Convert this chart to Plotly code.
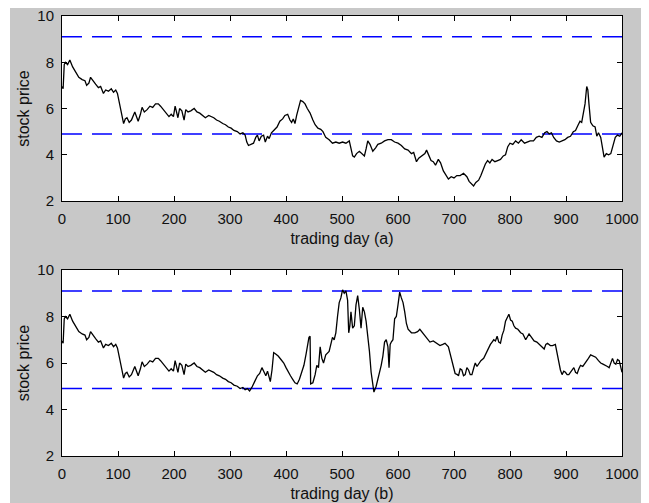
import plotly.graph_objects as go

# ---------------- data ----------------
# shared early path (both panels identical up to ~day 327)
common_days = [0, 2, 4, 6, 10, 14, 19, 24, 30, 36, 41, 44, 48, 51, 56, 60, 65, 69, 74, 78,
               83, 88, 92, 96, 99, 101, 104, 107, 110, 113, 116, 120, 124, 130, 133, 136, 140,
               143, 147, 152, 157, 162, 167, 172, 176, 181, 186, 191, 195, 199, 202, 205, 207,
               210, 214, 218, 221, 225, 230, 236, 241, 246, 251, 256, 262, 266, 271, 276, 281,
               287, 292, 297, 302, 307, 313, 318, 323, 327]
common_price = [6.95, 6.85, 7.9, 8.0, 7.9, 8.1, 7.8, 7.6, 7.35, 7.25, 7.2, 7.0, 7.1, 7.35, 7.15,
                7.05, 6.9, 6.95, 6.65, 6.8, 6.75, 6.85, 6.7, 6.8, 6.65, 6.4, 6.0, 5.7, 5.35, 5.55,
                5.6, 5.4, 5.5, 5.85, 5.6, 5.45, 5.75, 6.05, 5.85, 5.95, 6.1, 6.05, 6.2, 6.2, 6.1,
                5.95, 5.85, 5.65, 5.75, 5.65, 6.1, 5.8, 5.6, 6.0, 5.9, 5.5, 5.95, 5.85, 5.9, 6.0,
                5.85, 5.8, 5.7, 5.6, 5.7, 5.65, 5.6, 5.5, 5.45, 5.35, 5.3, 5.2, 5.15, 5.05, 5.0,
                4.9, 4.95, 4.85]

# panel (a) continuation
days_a_tail = [330, 333, 338, 342, 346, 349, 352, 356, 360, 363, 367, 370, 374, 379, 384, 389,
               394, 398, 403, 407, 410, 413, 416, 419, 421, 424, 426, 430, 434, 438, 443, 448,
               452, 457, 462, 466, 471, 477, 483, 489, 495, 501, 507, 513, 516, 519, 522, 526,
               531, 535, 540, 543, 546, 550, 555, 560, 564, 570, 576, 582, 588, 594, 600, 606,
               612, 618, 624, 628, 633, 637, 642, 648, 651, 655, 659, 663, 667, 672, 676, 681,
               686, 690, 695, 700, 705, 711, 717, 723, 727, 731, 735, 739, 744, 748, 752, 756,
               760, 764, 768, 773, 778, 783, 788, 792, 796, 800, 805, 810, 815, 820, 826, 831,
               836, 842, 847, 852, 857, 862, 866, 870, 874, 878, 883, 888, 893, 898, 903, 908,
               913, 917, 921, 925, 928, 931, 934, 937, 939, 941, 944, 948, 952, 955, 958, 962,
               965, 968, 972, 976, 980, 984, 988, 992, 996, 1000]
price_a_tail = [4.55, 4.4, 4.45, 4.5, 4.75, 4.85, 4.6, 4.8, 4.85, 4.55, 4.8, 4.7, 4.95, 5.1, 5.2,
                5.45, 5.55, 5.7, 5.75, 5.5, 5.4, 5.55, 5.35, 5.7, 5.9, 6.2, 6.35, 6.3, 6.2, 6.0,
                5.8, 5.5, 5.3, 5.15, 5.1, 5.0, 4.75, 4.65, 4.5, 4.55, 4.5, 4.55, 4.5, 4.6, 4.3,
                3.95, 3.9, 4.05, 4.15, 4.05, 3.95, 4.25, 4.6, 4.45, 4.15, 4.3, 4.45, 4.5, 4.6,
                4.65, 4.65, 4.55, 4.5, 4.4, 4.25, 4.2, 4.05, 4.1, 3.7, 3.85, 3.95, 4.05, 4.2,
                3.95, 3.75, 3.7, 3.55, 3.8, 3.65, 3.3, 3.1, 2.95, 3.05, 3.0, 3.1, 3.1, 3.2, 3.05,
                2.85, 2.75, 2.65, 2.8, 2.9, 3.1, 3.35, 3.6, 3.75, 3.65, 3.8, 3.7, 3.75, 3.8, 3.95,
                4.0, 4.35, 4.5, 4.45, 4.6, 4.5, 4.65, 4.5, 4.55, 4.6, 4.6, 4.75, 4.8, 4.75, 4.95,
                5.0, 4.9, 4.95, 4.75, 4.6, 4.55, 4.6, 4.65, 4.75, 4.8, 5.0, 5.05, 5.25, 5.45,
                5.4, 5.85, 6.2, 6.95, 6.8, 6.2, 5.4, 5.25, 5.2, 4.8, 4.95, 4.75, 4.3, 3.9, 4.05,
                4.0, 4.05, 4.4, 4.75, 4.85, 4.8, 4.95]

# panel (b) continuation
days_b_tail = [331, 335, 339, 344, 349, 353, 357, 361, 364, 367, 370, 372, 375, 378, 381, 386,
               391, 396, 400, 404, 408, 412, 416, 420, 424, 428, 432, 436, 439, 441, 443, 444,
               448, 452, 455, 458, 461, 464, 467, 471, 477, 480, 483, 486, 489, 492, 495, 498,
               501, 504, 507, 510, 512, 514, 516, 519, 522, 525, 528, 531, 534, 537, 540, 543,
               546, 549, 552, 555, 557, 561, 566, 570, 573, 576, 579, 582, 584, 586, 588, 591,
               594, 597, 600, 603, 606, 609, 612, 615, 618, 624, 630, 635, 639, 645, 651, 657,
               663, 669, 675, 680, 684, 690, 693, 696, 699, 702, 706, 708, 711, 714, 717, 720,
               723, 726, 729, 732, 736, 738, 741, 744, 748, 753, 756, 759, 762, 765, 768, 771,
               774, 777, 780, 783, 786, 789, 792, 795, 798, 801, 804, 807, 810, 814, 819, 823,
               828, 834, 838, 843, 848, 852, 857, 861, 864, 867, 872, 876, 881, 884, 887, 890,
               893, 896, 899, 902, 905, 909, 914, 917, 920, 923, 926, 930, 935, 940, 944, 948,
               953, 958, 962, 966, 971, 974, 977, 980, 983, 986, 989, 992, 995, 998, 1000]
price_b_tail = [4.9, 4.8, 4.95, 5.2, 5.45, 5.55, 5.8, 5.6, 5.45, 5.65, 5.3, 5.2, 5.7, 6.45, 6.4,
                6.3, 6.15, 6.0, 5.8, 5.6, 5.45, 5.3, 5.15, 5.1, 5.3, 5.6, 5.9, 6.4, 6.9, 7.1,
                7.15, 5.1, 5.15, 5.5, 5.9, 5.8, 6.7, 6.2, 6.0, 6.35, 6.5, 6.8, 7.1, 7.0, 7.3, 8.0,
                8.6, 8.8, 9.15, 9.0, 9.1, 8.7, 7.3, 7.6, 8.2, 7.5, 7.6, 8.5, 8.9, 8.3, 7.5, 8.4,
                8.2, 7.8, 7.2, 6.5, 5.6, 5.0, 4.75, 5.0, 5.45, 5.9, 6.3, 6.9, 7.0, 6.7, 5.8, 6.8,
                6.9, 7.0, 7.9, 8.0, 8.5, 9.05, 8.8, 8.6, 8.2, 7.7, 7.45, 7.3, 7.3, 7.35, 7.45,
                7.25, 7.1, 6.9, 6.95, 6.85, 6.75, 6.8, 6.85, 6.7, 6.4, 6.1, 5.8, 5.55, 5.5, 5.45,
                5.75, 5.7, 5.45, 5.5, 5.8, 5.7, 5.5, 5.5, 5.85, 6.0, 5.85, 5.95, 6.1, 6.2, 6.35,
                6.5, 6.7, 6.8, 6.9, 7.0, 6.95, 7.15, 6.9, 6.85, 7.2, 7.4, 7.8, 7.95, 8.1, 7.85,
                7.8, 7.6, 7.5, 7.45, 7.3, 7.25, 7.0, 7.25, 7.1, 6.95, 6.9, 6.8, 6.7, 6.6, 6.8,
                6.85, 6.75, 6.75, 6.8, 6.4, 6.0, 5.7, 5.5, 5.65, 5.6, 5.5, 5.5, 5.65, 5.8, 5.6,
                5.55, 5.75, 5.9, 5.85, 6.0, 6.2, 6.35, 6.3, 6.25, 6.1, 6.0, 5.95, 5.9, 5.85, 5.8,
                6.05, 6.2, 6.0, 5.95, 6.15, 6.1, 5.8, 5.6]

days_a = common_days + days_a_tail
price_a = common_price + price_a_tail
days_b = common_days + days_b_tail
price_b = common_price + price_b_tail

band_days = [0, 1000]
upper_band = 9.1
lower_band = 4.9

x_ticks = [0, 100, 200, 300, 400, 500, 600, 700, 800, 900, 1000]
y_ticks = [2, 4, 6, 8, 10]
x_titles = ["trading day (a)", "trading day (b)"]
y_title = "stock price"

# ---------------- figure ----------------
fig = go.Figure()

panels = [(days_a, price_a, "x", "y"), (days_b, price_b, "x2", "y2")]
for d, p, xa, ya in panels:
    for lvl in (upper_band, lower_band):
        fig.add_trace(go.Scatter(x=band_days, y=[lvl, lvl], mode="lines", xaxis=xa, yaxis=ya,
                                 line=dict(color="#0000ff", width=1.6, dash="20px,10px"),
                                 showlegend=False, hoverinfo="skip"))
    fig.add_trace(go.Scatter(x=d, y=p, mode="lines", xaxis=xa, yaxis=ya,
                             line=dict(color="black", width=1.3),
                             showlegend=False))

# page has an 8px body margin; figure spans page x 8..649, y 8..503
W, H = 641, 495
L, R, T, B = 54, 27, 8, 47
pw, ph = W - L - R, H - T - B

def ydom(top_px, bot_px):
    return [(H - B - bot_px) / ph, (H - B - top_px) / ph]

tickfont = dict(family="Liberation Sans, Arial, sans-serif", size=15, color="#111111")
titlefont = dict(family="Liberation Sans, Arial, sans-serif", size=16, color="#111111")

common_x = dict(range=[0, 1000], tickvals=x_ticks, ticks="inside", ticklen=5, tickcolor="black",
                showline=True, linecolor="black", linewidth=1, mirror="ticks", showgrid=False,
                zeroline=False, tickfont=tickfont, ticklabelstandoff=4,
                ticklabeloverflow="allow")
common_y = dict(range=[2, 10], tickvals=y_ticks, ticks="inside", ticklen=5, tickcolor="black",
                showline=True, linecolor="black", linewidth=1, mirror="ticks", showgrid=False,
                zeroline=False, tickfont=tickfont, ticklabelstandoff=4,
                ticklabeloverflow="allow",
                title=dict(text=y_title, font=titlefont, standoff=3))

fig.update_layout(
    width=W, height=H,
    margin=dict(l=L, r=R, t=T, b=B, autoexpand=False),
    paper_bgcolor="#c8c8c8", plot_bgcolor="white",
    xaxis=dict(common_x, domain=[0, 1], anchor="y",
               title=dict(text=x_titles[0], font=titlefont, standoff=6)),
    yaxis=dict(common_y, domain=ydom(8, 193), anchor="x"),
    xaxis2=dict(common_x, domain=[0, 1], anchor="y2",
                title=dict(text=x_titles[1], font=titlefont, standoff=6)),
    yaxis2=dict(common_y, domain=ydom(262, 448), anchor="x2"),
    shapes=[
        dict(type="rect", xref="paper", yref="paper", layer="below", line_width=0,
             fillcolor="white", x0=-L / pw - 0.01, x1=(2 - L) / pw, y0=-1, y1=2),
        dict(type="rect", xref="paper", yref="paper", layer="below", line_width=0,
             fillcolor="white", x0=(637 - L) / pw, x1=2, y0=-1, y1=2),
    ],
)

fig.write_html("out.html")
